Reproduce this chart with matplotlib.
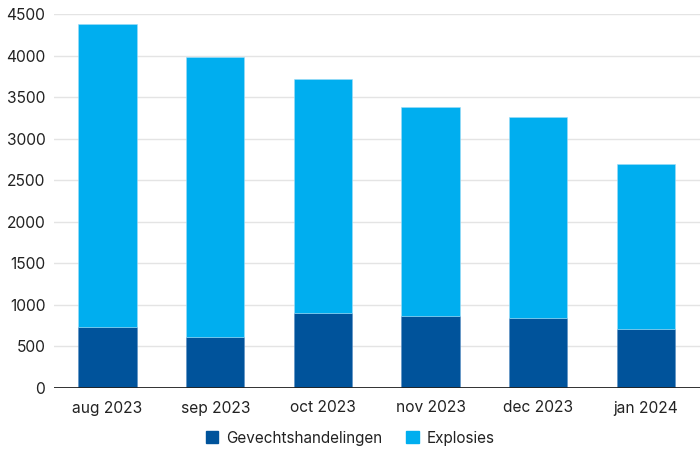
import matplotlib.pyplot as plt
from matplotlib.patches import Patch

# === DATA ===
months = ['aug 2023', 'sep 2023', 'oct 2023', 'nov 2023', 'dec 2023', 'jan 2024']
gevechts = [731, 608, 908, 863, 839, 712]
explosies = [3645, 3378, 2810, 2522, 2426, 1987]
y_ticks = [0, 500, 1000, 1500, 2000, 2500, 3000, 3500, 4000, 4500]

# === STYLE ===
DARK = '#00539b'
LIGHT = '#00aeef'
TEXT = '#222222'
GRID = '#e4e4e4'
plt.rcParams['font.family'] = ['Inter', 'DejaVu Sans']

fig = plt.figure(figsize=(7.0, 4.53), dpi=100)
ax = fig.add_axes([53.7 / 700, 1 - 388 / 453, 646 / 700, 374 / 453])

x = range(len(months))
ax.bar(x, gevechts, width=0.54, color=DARK, edgecolor='#5a8fc4', linewidth=0.4, zorder=3)
ax.bar(x, explosies, width=0.54, bottom=gevechts, color=LIGHT,
       edgecolor='#9fdcf7', linewidth=0.4, zorder=3)

ax.set_xlim(-0.5, len(months) - 0.5)
ax.set_ylim(0, 4500)
ax.set_yticks(y_ticks)
ax.set_xticks(list(x))
ax.set_xticklabels(months)
ax.tick_params(axis='both', length=0, labelsize=11.2, colors=TEXT)
ax.tick_params(axis='x', pad=9)
ax.tick_params(axis='y', pad=6)

ax.grid(axis='y', color=GRID, linewidth=1, zorder=0)
for s in ax.spines.values():
    s.set_visible(False)

# baseline at zero
ax.axhline(0, color=TEXT, linewidth=1.3, zorder=4)

handles = [Patch(color=DARK, label='Gevechtshandelingen'),
           Patch(color=LIGHT, label='Explosies')]
fig.legend(handles=handles, loc='center', bbox_to_anchor=(0.5, 1 - 438 / 453),
           ncol=2, frameon=False, fontsize=11, handlelength=0.8, handleheight=0.8,
           handletextpad=0.5, columnspacing=1.6, labelcolor=TEXT)

fig.savefig('out.png', dpi=100)
